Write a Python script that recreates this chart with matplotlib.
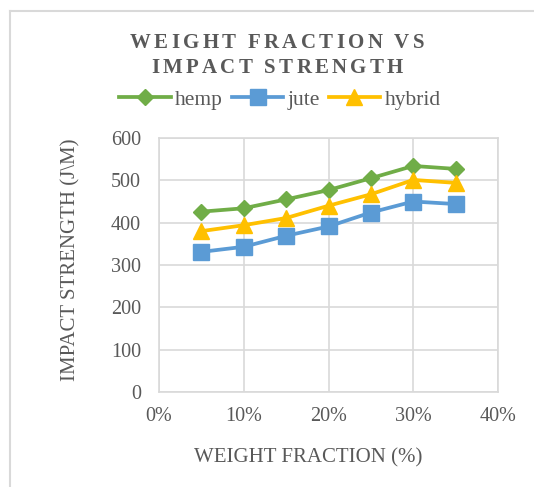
"""Weight fraction vs impact strength line chart (Excel style)."""
import matplotlib
matplotlib.use("Agg")
import matplotlib.pyplot as plt
from matplotlib.font_manager import FontProperties
from matplotlib.lines import Line2D
from matplotlib.ticker import PercentFormatter

# data
weight_fraction = [0.05, 0.10, 0.15, 0.20, 0.25, 0.30, 0.35]
hemp = [426, 434, 455, 477, 505, 534, 527]
jute = [331, 343, 369, 391, 424, 450, 444]
hybrid = [380, 394, 411, 440, 467, 501, 494]
x_ticks = [0, 0.1, 0.2, 0.3, 0.4]
y_ticks = [0, 100, 200, 300, 400, 500, 600]

TEXT = "#595959"
GRID = "#D9D9D9"
SERIF = "Liberation Serif"

fig = plt.figure(figsize=(5.34, 4.87), dpi=100)
ax = fig.add_axes([159 / 534, 1 - 392 / 487, 339 / 534, 254 / 487])

ax.plot(weight_fraction, hemp, color="#70AD47", lw=2.7, marker="D",
        ms=8.5, label="hemp")
ax.plot(weight_fraction, jute, color="#5B9BD5", lw=2.7, marker="s",
        ms=11, label="jute")
ax.plot(weight_fraction, hybrid, color="#FFC000", lw=2.7, marker="^",
        ms=12, label="hybrid")

ax.set_xlim(0, 0.4)
ax.set_ylim(0, 600)
ax.set_xticks(x_ticks)
ax.set_yticks(y_ticks)
ax.xaxis.set_major_formatter(PercentFormatter(1.0, decimals=0))
ax.grid(True, color=GRID, lw=1.2)
ax.set_axisbelow(True)
for sp in ax.spines.values():
    sp.set_color(GRID)
    sp.set_linewidth(1.2)
ax.tick_params(length=0, labelsize=14.5, labelcolor=TEXT)
ax.tick_params(axis="y", pad=13)
ax.tick_params(axis="x", pad=11)
for lbl in ax.get_xticklabels() + ax.get_yticklabels():
    lbl.set_fontfamily(SERIF)

ax.set_xlabel("WEIGHT FRACTION (%)", family=SERIF, fontsize=15, color=TEXT)
ax.set_ylabel("IMPACT STRENGTH (J\\M)", family=SERIF, fontsize=15,
              color=TEXT, parse_math=False)
ax.xaxis.set_label_coords(0.44, -(458 - 392) / 254)
ax.yaxis.set_label_coords(-(159 - 80) / 339, 0.52)
ax.xaxis.label.set_va("center")

leg = fig.legend(loc="center", bbox_to_anchor=(280 / 534, 1 - 100 / 487),
                 ncol=3, frameon=False, handlelength=2.4, handletextpad=0.2,
                 columnspacing=0.4, prop=FontProperties(family=SERIF, size=15.5))
for t in leg.get_texts():
    t.set_color(TEXT)


def spaced_title(s, x_center, y_px, spacing):
    """Draw bold title text with extra letter spacing, centred on x_center."""
    fp = FontProperties(family=SERIF, weight="bold", size=15)
    renderer = fig.canvas.get_renderer()
    widths = [renderer.get_text_width_height_descent(ch, fp, ismath=False)[0]
              for ch in s]
    total = sum(widths) + spacing * (len(s) - 1)
    x = x_center - total / 2
    for ch, w in zip(s, widths):
        fig.text(x / 534, 1 - y_px / 487, ch, fontproperties=fp, color=TEXT,
                 ha="left", va="center")
        x += w + spacing


spaced_title("WEIGHT FRACTION VS", 277, 43, 3.3)
spaced_title("IMPACT STRENGTH", 277, 68, 3.3)

# outer chart border (left and top edges visible)
fig.add_artist(Line2D([9.5 / 534, 9.5 / 534], [0, 1 - 10.5 / 487],
                      color=GRID, lw=1.5))
fig.add_artist(Line2D([9.5 / 534, 1], [1 - 10.5 / 487, 1 - 10.5 / 487],
                      color=GRID, lw=1.5))

fig.savefig("out.png", dpi=100)
